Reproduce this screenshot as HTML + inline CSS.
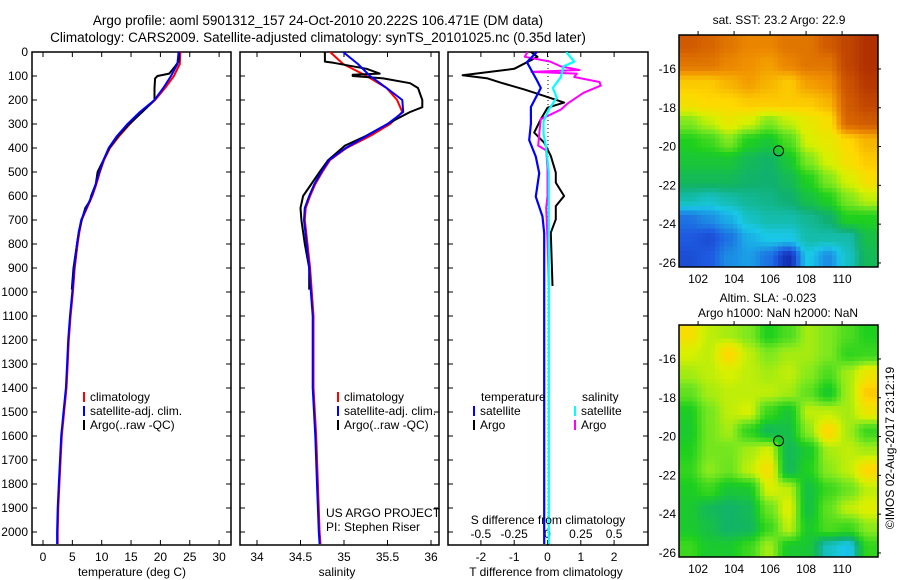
<!DOCTYPE html>
<html><head><meta charset="utf-8">
<style>
body{margin:0;background:#fff;}
svg{display:block;font-family:"Liberation Sans",sans-serif;}
</style></head>
<body>
<svg id="chart" width="900" height="580" viewBox="0 0 900 580">
<defs>
<clipPath id="clipTop"><rect x="679" y="35" width="199" height="232"/></clipPath>
<clipPath id="clipBot"><rect x="679" y="325" width="199" height="232"/></clipPath>
<clipPath id="clipP1"><rect x="32" y="52" width="199" height="493"/></clipPath>
<clipPath id="clipP2"><rect x="240" y="52" width="199" height="493"/></clipPath>
<clipPath id="clipP3"><rect x="448" y="52" width="200" height="493"/></clipPath>
</defs>
<text x="318" y="25" font-size="13.5" text-anchor="middle">Argo profile: aoml 5901312_157 24-Oct-2010 20.222S 106.471E (DM data)</text>
<text x="318" y="42" font-size="13.5" text-anchor="middle">Climatology: CARS2009. Satellite-adjusted climatology: synTS_20101025.nc (0.35d later)</text>
<g id="g1"></g>
<g id="g2"></g>
<g id="g3"></g>
<g id="gm1"></g>
<g id="gm2"></g>
<text x="779" y="24" font-size="12" text-anchor="middle">sat. SST: 23.2 Argo: 22.9</text>
<text x="768" y="302" font-size="12" text-anchor="middle">Altim. SLA: -0.023</text>
<text x="778" y="317" font-size="12" text-anchor="middle">Argo h1000: NaN h2000: NaN</text>
<text transform="translate(894,448) rotate(-90)" font-size="12" text-anchor="middle">©IMOS 02-Aug-2017 23:12:19</text>
</svg>
<script>
// ---------- data ----------
const tempDepth = [0,50,100,150,200,250,300,350,400,450,500,550,600,650,700,750,800,900,1000,1100,1200,1300,1400,1500,1600,1700,1800,1900,2000,2050];
const tempClim  = [23.4,23.3,22.3,20.8,19.1,16.8,14.8,13.0,11.4,10.4,9.7,9.1,8.4,7.5,6.6,6.2,5.9,5.4,5.1,4.7,4.4,4.2,4.0,3.6,3.2,3.0,2.8,2.6,2.5,2.5];
const tempSat   = [23.1,22.9,21.8,20.5,19.0,16.5,14.4,12.6,11.2,10.3,9.6,9.0,8.3,7.4,6.5,6.1,5.8,5.3,5.0,4.6,4.3,4.1,3.9,3.5,3.1,2.9,2.7,2.5,2.4,2.4];
const argoDepth = [0,40,60,90,100,110,150,190,200,250,300,350,400,450,500,550,600,620,650,700,750,800,900,990];
const argoTemp  = [23.2,23.1,22.5,21.5,19.5,19.1,19.0,19.0,19.0,16.9,14.7,12.8,11.3,10.3,9.3,9.0,8.2,8.0,7.2,6.6,6.1,5.8,5.2,4.9];
const salDepth  = [0,50,100,150,200,250,300,350,400,450,500,550,600,650,700,800,900,1000,1100,1200,1400,1600,1800,2000,2050];
const salClim   = [34.84,34.99,35.26,35.49,35.61,35.67,35.53,35.30,35.03,34.84,34.75,34.67,34.61,34.56,34.55,34.58,34.61,34.63,34.65,34.65,34.65,34.68,34.70,34.72,34.73];
const salSat    = [34.99,35.16,35.30,35.49,35.67,35.68,35.50,35.26,35.02,34.83,34.74,34.66,34.60,34.55,34.54,34.57,34.60,34.62,34.64,34.64,34.64,34.67,34.69,34.71,34.72];
const argoSalDepth = [0,40,45,70,90,95,100,110,130,150,200,230,250,280,300,350,390,400,450,500,600,650,700,800,900,990];
const argoSal      = [34.78,34.78,34.88,35.26,35.41,35.10,35.10,35.45,35.76,35.85,35.90,35.90,35.76,35.60,35.50,35.25,35.01,34.98,34.82,34.72,34.53,34.50,34.51,34.55,34.60,34.60];
const dTsatDepth = [0,42,117,150,229,298,367,436,505,603,686,755,2050];
const dTsat      = [-0.32,-0.62,-0.32,-0.2,-0.5,-0.5,-0.55,-0.35,-0.25,-0.35,-0.15,-0.1,-0.1];
const dTargoDepth = [0,20,70,97,110,128,156,183,211,232,280,336,378,433,503,544,600,642,697,753,975];
const dTargo      = [-0.5,-0.3,-1.0,-2.55,-1.8,-1.4,-0.7,-0.1,0.5,0.0,-0.2,-0.4,-0.1,0.1,0.25,0.25,0.5,0.25,0.25,0.1,0.15];
const dSargoDepth = [0,20,40,60,75,83,90,104,125,140,170,215,240,280,330,390,410,480,600,650,780,975];
const dSargo      = [-0.15,-0.17,0.02,0.1,0.24,-0.12,0.22,0.2,0.39,0.4,0.27,0.15,0.1,-0.05,-0.06,-0.07,-0.01,0.0,0.0,-0.01,0.0,0.01];
const dSsatDepth = [0,40,60,105,150,190,240,290,340,400,500,2050];
const dSsat      = [0.14,0.2,0.12,0.1,0.04,0.07,0.01,-0.03,-0.03,-0.01,0.01,0.01];
const depthTicks = [0,100,200,300,400,500,600,700,800,900,1000,1100,1200,1300,1400,1500,1600,1700,1800,1900,2000];
const tempTicks = [0,5,10,15,20,25,30];
const salTicks = [34,34.5,35,35.5,36];
const dTTicks = [-2,-1,0,1,2];
const dSTicks = [-0.5,-0.25,0,0.25,0.5];
const sstGrid = [
[0.9,0.88,0.85,0.82,0.82,0.85,0.85,0.9,0.95,1.0],
[0.85,0.85,0.82,0.8,0.78,0.82,0.85,0.85,0.95,1.0],
[0.72,0.72,0.75,0.78,0.75,0.72,0.78,0.8,0.92,0.98],
[0.68,0.7,0.7,0.72,0.72,0.72,0.72,0.75,0.9,0.95],
[0.55,0.6,0.65,0.62,0.55,0.6,0.65,0.68,0.88,0.9],
[0.45,0.48,0.55,0.45,0.42,0.5,0.62,0.65,0.7,0.75],
[0.42,0.42,0.42,0.38,0.36,0.42,0.55,0.62,0.68,0.72],
[0.38,0.38,0.38,0.36,0.35,0.38,0.45,0.55,0.62,0.68],
[0.3,0.28,0.3,0.32,0.33,0.35,0.4,0.45,0.55,0.6],
[0.15,0.18,0.22,0.28,0.3,0.3,0.32,0.35,0.45,0.45],
[0.12,0.1,0.15,0.22,0.25,0.25,0.3,0.3,0.3,0.4],
[0.1,0.12,0.18,0.2,0.15,0.05,0.25,0.18,0.28,0.38]];
const slaGrid = [
[0.68,0.6,0.58,0.55,0.45,0.5,0.58,0.55,0.5,0.45],
[0.62,0.6,0.7,0.6,0.55,0.58,0.58,0.55,0.47,0.48],
[0.58,0.6,0.62,0.6,0.58,0.6,0.56,0.5,0.58,0.66],
[0.52,0.58,0.6,0.6,0.6,0.58,0.52,0.43,0.58,0.72],
[0.44,0.54,0.6,0.62,0.48,0.42,0.6,0.6,0.58,0.66],
[0.43,0.54,0.58,0.47,0.38,0.4,0.56,0.7,0.58,0.48],
[0.45,0.54,0.54,0.58,0.62,0.38,0.43,0.58,0.6,0.58],
[0.47,0.56,0.53,0.6,0.68,0.38,0.45,0.56,0.6,0.7],
[0.44,0.48,0.42,0.43,0.62,0.6,0.4,0.48,0.53,0.6],
[0.43,0.38,0.36,0.38,0.53,0.63,0.4,0.52,0.6,0.63],
[0.43,0.4,0.36,0.37,0.48,0.6,0.43,0.5,0.48,0.56],
[0.48,0.43,0.43,0.48,0.58,0.43,0.42,0.28,0.24,0.47]];
const latTicks = [16,18,20,22,24,26];
const lonTicks = [102,104,106,108,110];
const argoLon = 106.471, argoLat = 20.222;

// ---------- helpers ----------
const NS = 'http://www.w3.org/2000/svg';
function mk(parent, tag, attrs){const e=document.createElementNS(NS,tag);for(const k in attrs)e.setAttribute(k,attrs[k]);parent.appendChild(e);return e;}
const yD = d => 52 + d*0.24;
const xT = t => 43 + t*5.87;
const xS = s => 257 + (s-34)*87;
const xDT = v => 547.5 + v*33.3;
const xDS = v => 547.5 + v*133.3;

function panelFrame(g, x0, x1){
  const r = mk(g,'rect',{x:x0,y:52,width:x1-x0,height:493,fill:'none',stroke:'#000','stroke-width':1.5});
  
  
  depthTicks.forEach(d=>{
    mk(g,'line',{x1:x0,x2:x0+5,y1:yD(d),y2:yD(d),stroke:'#000'});
    mk(g,'line',{x1:x1-5,x2:x1,y1:yD(d),y2:yD(d),stroke:'#000'});
  });
}
function xTicks(g, vals, fx, labels, ly){
  vals.forEach((v,i)=>{
    mk(g,'line',{x1:fx(v),x2:fx(v),y1:52,y2:57,stroke:'#000'});
    mk(g,'line',{x1:fx(v),x2:fx(v),y1:540,y2:545,stroke:'#000'});
    if(labels){const t=mk(g,'text',{x:fx(v),y:ly,'font-size':12,'text-anchor':'middle'});t.textContent=labels[i];
      
      }
  });
}
function line(g, xs, ds, fx, color, name, w){
  const pts = xs.map((v,i)=>fx(v).toFixed(1)+','+yD(ds[i]).toFixed(1)).join(' ');
  const p = mk(g,'polyline',{points:pts,fill:'none',stroke:color,'stroke-width':w||2,'stroke-linejoin':'round'});
  
  
}
function legend(g, x, y, color, label){
  mk(g,'rect',{x:x,y:y-9,width:2,height:10,fill:color});
  const t = mk(g,'text',{x:x+7,y:y,'font-size':12});t.textContent=label;
  
  
}

// ---------- panel 1 ----------
const g1 = document.getElementById('g1');
panelFrame(g1,32,231);
depthTicks.forEach(d=>{const t=mk(g1,'text',{x:28,y:yD(d)+4,'font-size':12,'text-anchor':'end'});t.textContent=d;
  
  });
xTicks(g1,tempTicks,xT,tempTicks.map(String),561);
const c1 = mk(g1,'g',{'clip-path':'url(#clipP1)'});
line(c1,tempClim,tempDepth,xT,'#ff0000','temp-climatology-line');
line(c1,argoTemp,argoDepth,xT,'#000000','temp-argo-line');
line(c1,tempSat,tempDepth,xT,'#0000ff','temp-satellite-line');
legend(g1,83,401,'#ff0000','climatology');
legend(g1,83,415,'#0000ff','satellite-adj. clim.');
legend(g1,83,429,'#000','Argo(..raw -QC)');
{const t=mk(g1,'text',{x:132,y:576,'font-size':12,'text-anchor':'middle'});t.textContent='temperature (deg C)';

}

// ---------- panel 2 ----------
const g2 = document.getElementById('g2');
panelFrame(g2,240,439);
xTicks(g2,salTicks,xS,['34','34.5','35','35.5','36'],561);
const c2 = mk(g2,'g',{'clip-path':'url(#clipP2)'});
line(c2,salClim,salDepth,xS,'#ff0000','sal-climatology-line');
line(c2,argoSal,argoSalDepth,xS,'#000000','sal-argo-line');
line(c2,salSat,salDepth,xS,'#0000ff','sal-satellite-line');
legend(g2,337,401,'#ff0000','climatology');
legend(g2,337,415,'#0000ff','satellite-adj. clim.');
legend(g2,337,429,'#000','Argo(..raw -QC)');
{const t=mk(g2,'text',{x:326,y:517,'font-size':12});t.textContent='US ARGO PROJECT';


const t2=mk(g2,'text',{x:326,y:531,'font-size':12});t2.textContent='PI: Stephen Riser';


const t3=mk(g2,'text',{x:337,y:576,'font-size':12,'text-anchor':'middle'});t3.textContent='salinity';

}

// ---------- panel 3 ----------
const g3 = document.getElementById('g3');
panelFrame(g3,448,648);
xTicks(g3,dTTicks,xDT,dTTicks.map(String),561);
dSTicks.forEach(v=>{const t=mk(g3,'text',{x:xDS(v),y:538,'font-size':12,'text-anchor':'middle'});t.textContent=String(v);
  
  });
mk(g3,'line',{x1:548,x2:548,y1:52,y2:545,stroke:'#000','stroke-dasharray':'1,3'});
const c3 = mk(g3,'g',{'clip-path':'url(#clipP3)'});
line(c3,dTargo,dTargoDepth,xDT,'#000000','t-diff-argo-line');
line(c3,dSargo,dSargoDepth,xDS,'#ff00ff','s-diff-argo-line');
line(c3,dTsat,dTsatDepth,xDT,'#0000ff','t-diff-satellite-line',2.2);
line(c3,dSsat,dSsatDepth,xDS,'#00ffff','s-diff-satellite-line',2.2);
{const a=mk(g3,'text',{x:481,y:401,'font-size':12});a.textContent='temperature';


const b=mk(g3,'text',{x:582,y:401,'font-size':12});b.textContent='salinity';

}
legend(g3,473,415,'#0000ff','satellite');
legend(g3,473,429,'#000','Argo');
legend(g3,574,415,'#00ffff','satellite');
legend(g3,574,429,'#ff00ff','Argo');
{const t=mk(g3,'text',{x:548,y:524,'font-size':12,'text-anchor':'middle'});t.textContent='S difference from climatology';


const t2=mk(g3,'text',{x:546,y:576,'font-size':12,'text-anchor':'middle'});t2.textContent='T difference from climatology';

}

// ---------- maps ----------
const stops=[[0,[10,20,150]],[0.12,[30,90,225]],[0.25,[25,200,232]],[0.35,[16,176,112]],[0.45,[30,208,30]],[0.55,[126,232,30]],[0.62,[216,240,0]],[0.7,[255,216,0]],[0.8,[240,144,0]],[0.9,[208,90,0]],[1,[176,48,0]]];
function cmap(v){v=Math.max(0,Math.min(1,v));for(let i=1;i<stops.length;i++){if(v<=stops[i][0]){const a=stops[i-1],b=stops[i];const f=(v-a[0])/(b[0]-a[0]);return 'rgb('+a[1].map((c,k)=>Math.round(c+(b[1][k]-c)*f)).join(',')+')';}}return 'rgb(176,48,0)';}
function sample(grid, fr, fc){
  const rows=grid.length, cols=grid[0].length;
  const r=Math.max(0,Math.min(rows-1,fr-0.5)), c=Math.max(0,Math.min(cols-1,fc-0.5));
  const r0=Math.floor(r), c0=Math.floor(c), r1=Math.min(rows-1,r0+1), c1=Math.min(cols-1,c0+1);
  const dr=r-r0, dc=c-c0;
  const s=t=>t*t*(3-2*t);
  const a=s(dr), b=s(dc);
  return grid[r0][c0]*(1-a)*(1-b)+grid[r0][c1]*(1-a)*b+grid[r1][c0]*a*(1-b)+grid[r1][c1]*a*b;
}
function drawMap(g, grid, top, clip){
  const L=679,R=878,B=top+232;
  const xL = lon => L + (lon-100.94)*18;
  const yL = lat => top + (lat-14.25)*19.4;
  const inner = mk(g,'g',{'clip-path':'url('+clip+')'});
  const rows=grid.length, cols=grid[0].length;
  const px=4.5;
  const nx=Math.ceil((R-L)/px), ny=Math.ceil((B-top)/px);
  for(let j=0;j<ny;j++)for(let i=0;i<nx;i++){
    const v=sample(grid,(j+0.5)*px/(B-top)*rows,(i+0.5)*px/(R-L)*cols);
    const cell=mk(inner,'rect',{x:L+i*px,y:top+j*px,width:px+0.4,height:px+0.4,fill:cmap(v)});
    
    
  }
  const fr=mk(g,'rect',{x:L,y:top,width:R-L,height:B-top,fill:'none',stroke:'#000','stroke-width':1.5});
  
  
  latTicks.forEach(lat=>{
    mk(g,'line',{x1:R,x2:R+3,y1:yL(lat),y2:yL(lat),stroke:'#000'});
    const t=mk(g,'text',{x:676,y:yL(lat)+4,'font-size':12,'text-anchor':'end'});t.textContent='-'+lat;
    
    
  });
  lonTicks.forEach(lon=>{
    mk(g,'line',{x1:xL(lon),x2:xL(lon),y1:top-4,y2:top,stroke:'#000'});
    const t=mk(g,'text',{x:xL(lon),y:B+16,'font-size':12,'text-anchor':'middle'});t.textContent=lon;
    
    
  });
  const m=mk(g,'circle',{cx:xL(argoLon),cy:yL(argoLat),r:5,fill:'none',stroke:'#000','stroke-width':1});
  
  
}
drawMap(document.getElementById('gm1'),sstGrid,35,'#clipTop');
drawMap(document.getElementById('gm2'),slaGrid,325,'#clipBot');
</script>
</body></html>
